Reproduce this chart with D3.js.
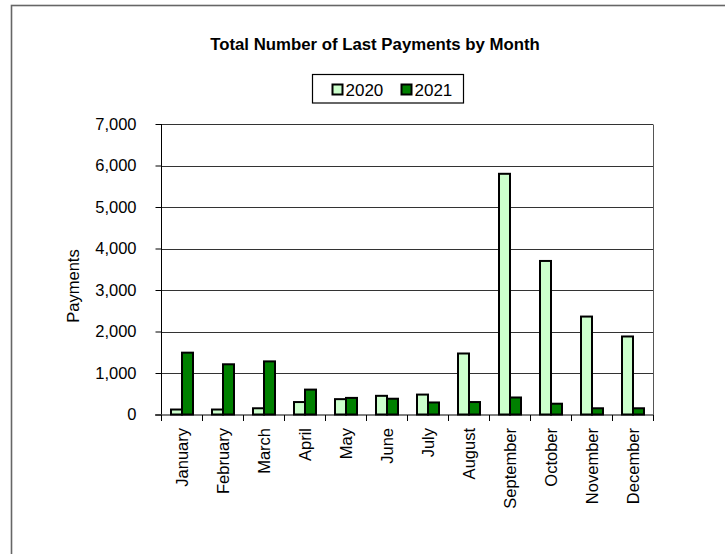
<!DOCTYPE html>
<html>
<head>
<meta charset="utf-8">
<script src="https://cdn.jsdelivr.net/npm/d3@7"></script>
<style>
  html, body { margin: 0; padding: 0; background: #fff; }
  svg { display: block; font-family: "Liberation Sans", Arial, sans-serif; }
</style>
</head>
<body>
<svg id="chart" width="725" height="554"></svg>
<script>
const months = ["January","February","March","April","May","June","July","August","September","October","November","December"];
const seriesNames = ["2020","2021"];
const values2020 = [120,120,150,300,370,450,480,1470,5800,3700,2360,1880];
const values2021 = [1490,1210,1280,600,400,380,290,300,410,260,150,150];
const yTicks = [0,1000,2000,3000,4000,5000,6000,7000];
const colors = ["#ccffcc","#008000"];

const svg = d3.select("#chart");
const pLeft = 161, pRight = 653, pTop = 124, pBottom = 414.5;

// outer chart border (extends beyond the visible window)
svg.append("rect").attr("x",11.5).attr("y",5.5).attr("width",760).attr("height",600)
  .attr("fill","#fff").attr("stroke","#666").attr("stroke-width",1.6);

const x = d3.scaleBand().domain(months).range([pLeft,pRight]).paddingInner(0).paddingOuter(0);
const x1 = d3.scaleBand().domain(seriesNames).range([10,32]);
const y = d3.scaleLinear().domain([0,7000]).range([pBottom,pTop]);

// gridlines
svg.append("g").selectAll("line").data(yTicks.filter(d=>d>0)).join("line")
  .attr("x1",pLeft).attr("x2",pRight)
  .attr("y1",d=>Math.round(y(d))+0.5).attr("y2",d=>Math.round(y(d))+0.5)
  .attr("stroke","#333").attr("stroke-width",1);

// plot area right border
svg.append("line").attr("x1",pRight+0.5).attr("x2",pRight+0.5).attr("y1",Math.round(y(7000))+0.5).attr("y2",pBottom)
  .attr("stroke","#555").attr("stroke-width",1);

// bars
const data = months.map((m,i)=>({month:m, vals:[values2020[i],values2021[i]]}));
const groups = svg.append("g").selectAll("g").data(data).join("g")
  .attr("transform",d=>`translate(${x(d.month)},0)`);
groups.selectAll("rect").data(d=>d.vals.map((v,j)=>({key:seriesNames[j],v,j}))).join("rect")
  .attr("x",d=>x1(d.key)).attr("width",x1.bandwidth())
  .attr("y",d=>y(d.v)).attr("height",d=>pBottom - y(d.v))
  .attr("fill",d=>colors[d.j]).attr("stroke","#000").attr("stroke-width",2);

// y axis
const yAxis = d3.axisLeft(y).tickValues(yTicks).tickFormat(d3.format(",")).tickSize(6).tickPadding(19);
const gy = svg.append("g").attr("transform",`translate(${pLeft+0.5},0)`).call(yAxis);
gy.select(".domain").attr("stroke","#000").attr("d",`M0,${pTop}V${pBottom}`);
gy.selectAll(".tick line").attr("stroke","#000");
gy.selectAll(".tick text").attr("font-size","16.5px").attr("fill","#000").attr("font-family","Liberation Sans, Arial, sans-serif");

// x axis
const gx = svg.append("g").attr("transform",`translate(0,${pBottom+0.5})`);
gx.append("line").attr("x1",pLeft-6).attr("x2",pRight+1).attr("y1",0).attr("y2",0).attr("stroke","#000");
gx.selectAll("line.t").data(months.concat(["end"])).join("line").attr("class","t")
  .attr("x1",(d,i)=>pLeft+0.5+i*x.bandwidth()).attr("x2",(d,i)=>pLeft+0.5+i*x.bandwidth())
  .attr("y1",0).attr("y2",6).attr("stroke","#000");
gx.selectAll("text").data(months).join("text")
  .attr("transform",d=>`translate(${x(d)+x.bandwidth()/2+6},13) rotate(-90)`)
  .attr("text-anchor","end").attr("font-size","16.5px").attr("fill","#000").text(d=>d);

// y axis title
svg.append("text").attr("transform",`translate(79,286) rotate(-90)`)
  .attr("text-anchor","middle").attr("font-size","16.5px").attr("fill","#000").text("Payments");

// title
svg.append("text").attr("x",375).attr("y",49.5).attr("text-anchor","middle")
  .attr("font-size","16.8px").attr("font-weight","bold").attr("fill","#000")
  .text("Total Number of Last Payments by Month");

// legend
const lg = svg.append("g");
lg.append("rect").attr("x",312.5).attr("y",74.5).attr("width",151).attr("height",28.5)
  .attr("fill","#fff").attr("stroke","#000").attr("stroke-width",1.2);
const items = lg.selectAll("g").data(seriesNames).join("g")
  .attr("transform",(d,i)=>`translate(${332 + i*69},0)`);
items.append("rect").attr("x",0.5).attr("y",84.5).attr("width",10).attr("height",10)
  .attr("fill",(d,i)=>colors[i]).attr("stroke","#000").attr("stroke-width",2);
items.append("text").attr("x",13.5).attr("y",96).attr("font-size","17px").attr("fill","#000").text(d=>d);
</script>
</body>
</html>
